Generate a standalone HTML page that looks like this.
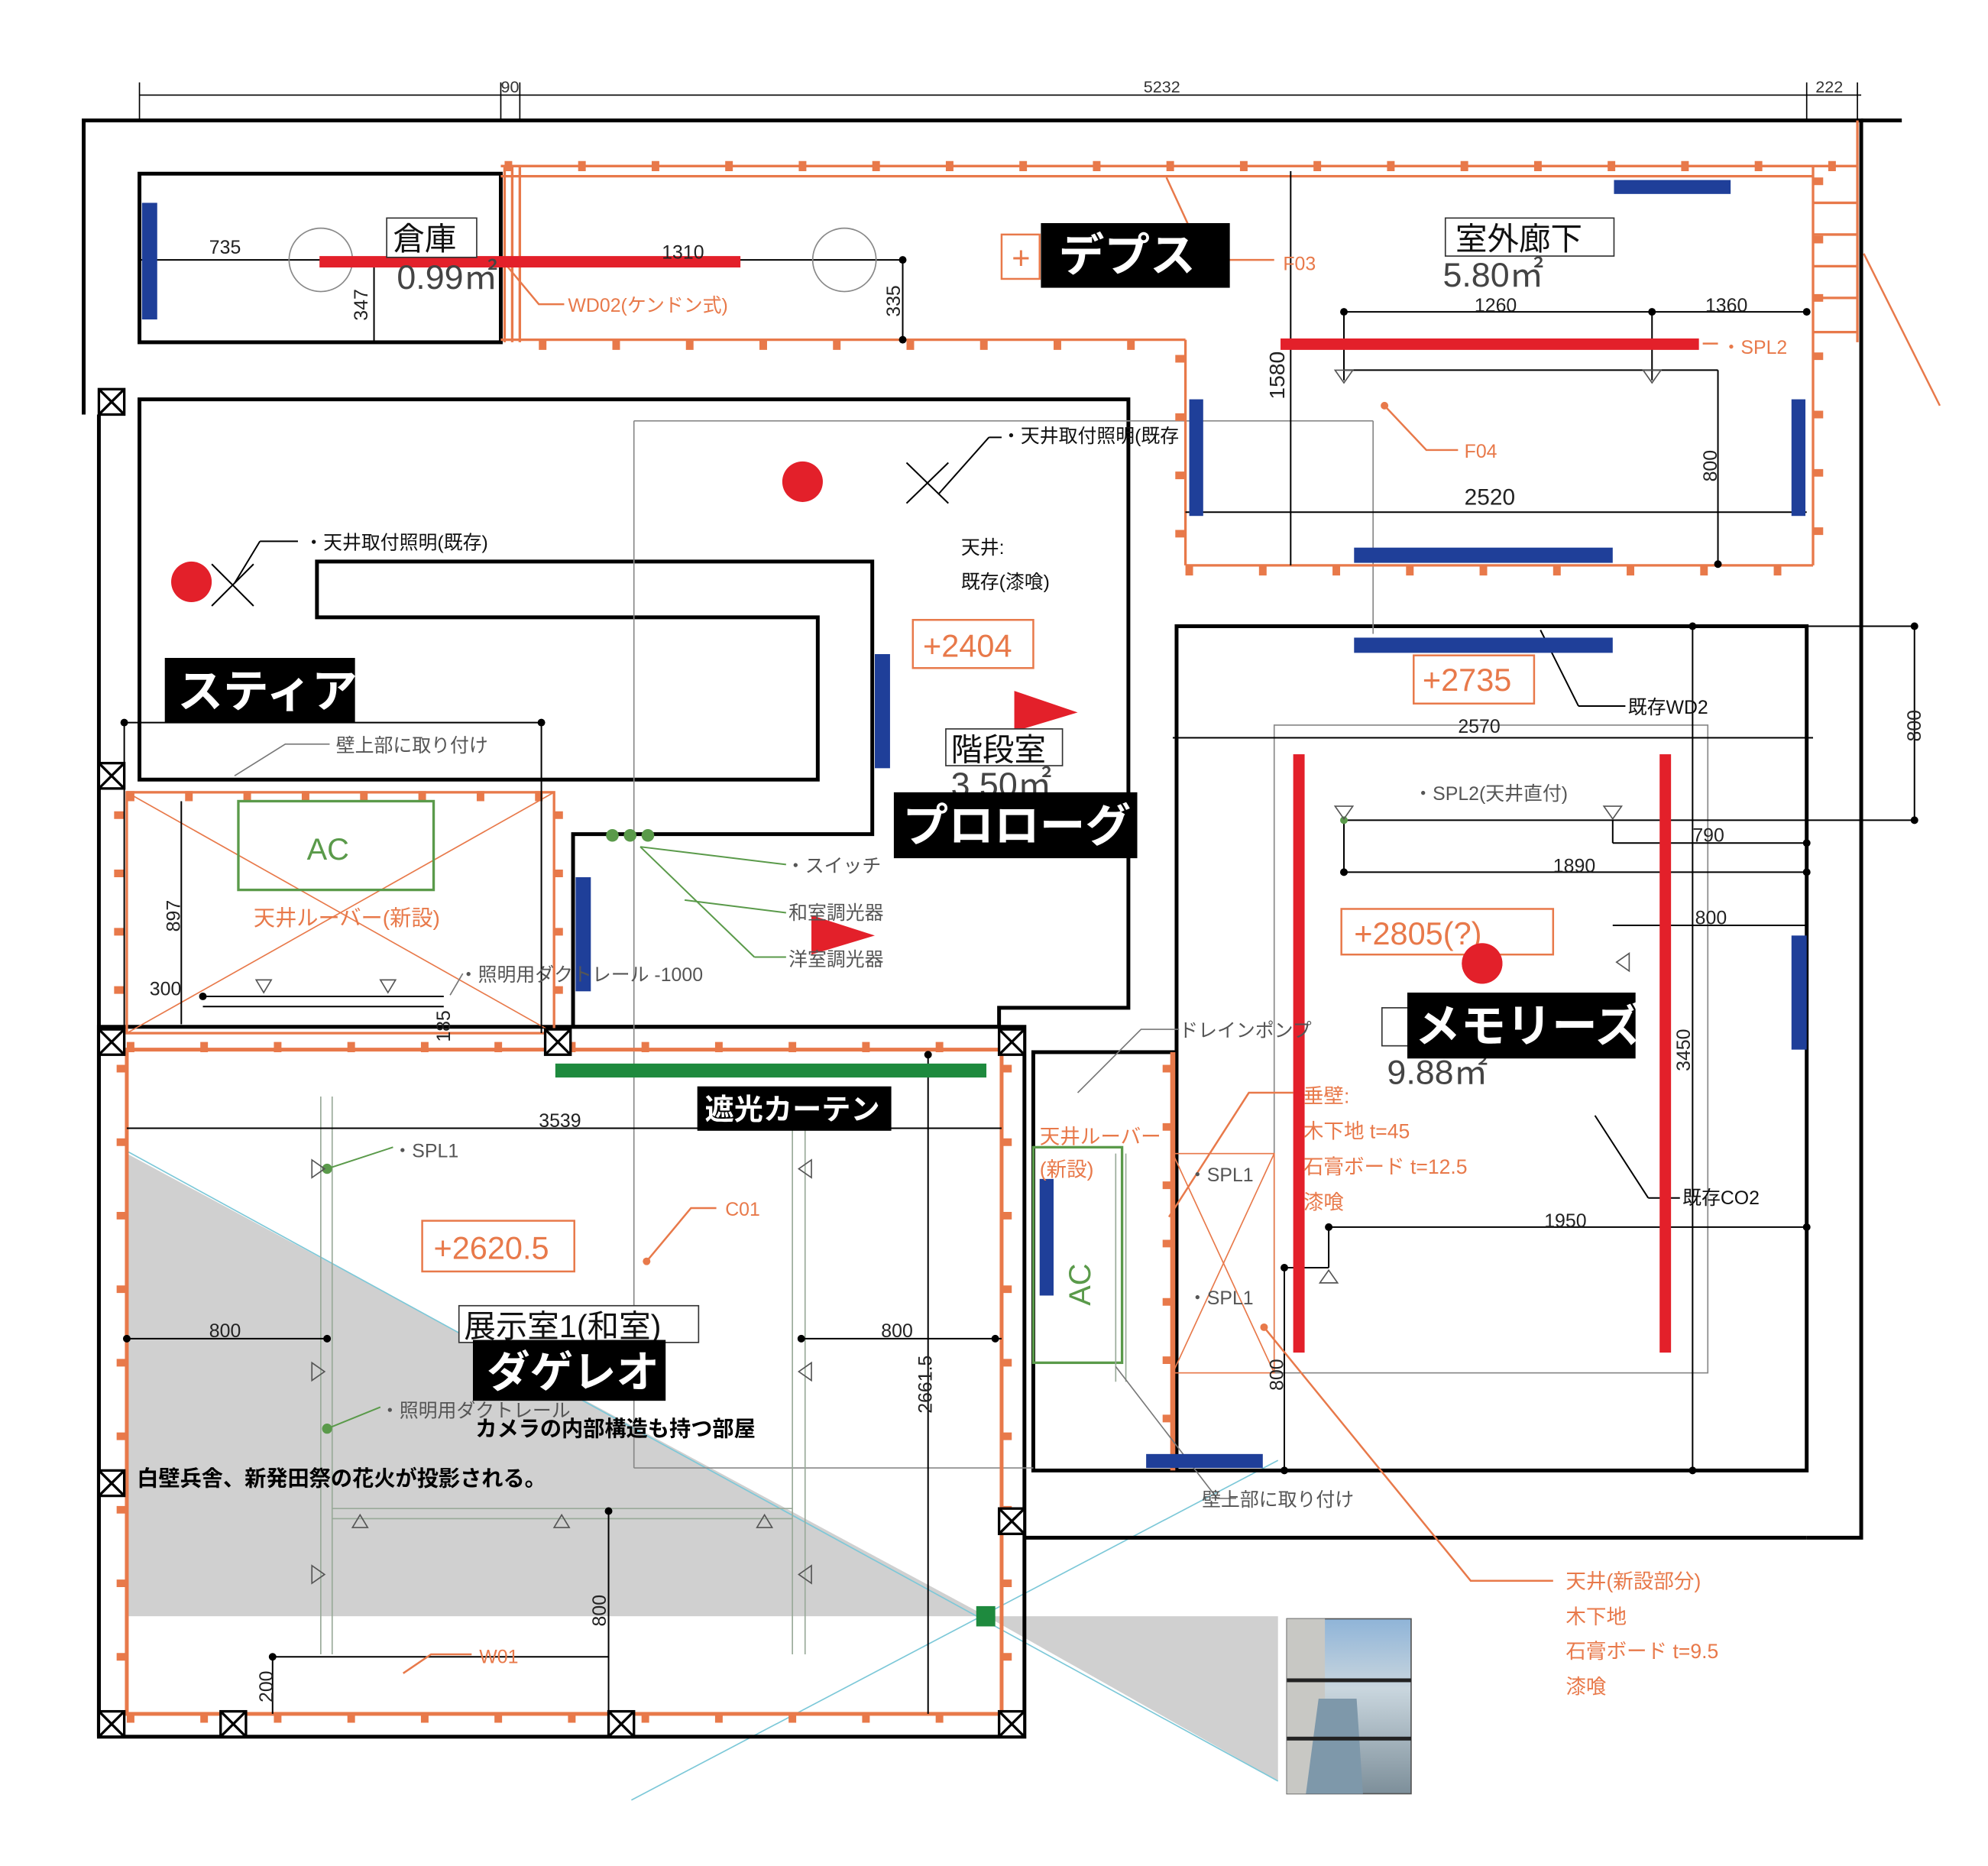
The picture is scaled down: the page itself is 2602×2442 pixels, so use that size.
<!DOCTYPE html>
<html><head><meta charset="utf-8"><style>
html,body{margin:0;padding:0;background:#fff}
svg{display:block}
text{font-family:"Liberation Sans","Noto Sans CJK JP",sans-serif}
</style></head><body>
<svg width="2602" height="2442" viewBox="0 0 1568 1472" preserveAspectRatio="none" xmlns="http://www.w3.org/2000/svg">
<defs>
<linearGradient id="sky" x1="0" y1="0" x2="0" y2="1"><stop offset="0" stop-color="#8fb4d8"/><stop offset="0.4" stop-color="#c9d6de"/><stop offset="1" stop-color="#7d8f9a"/></linearGradient>
<g id="xb"><rect x="-10" y="-10" width="20" height="20"/><line x1="-10" y1="-10" x2="10" y2="10"/><line x1="10" y1="-10" x2="-10" y2="10"/></g>
</defs>
<g stroke="#000" stroke-width="1" fill="none">
<line x1="110" y1="75" x2="1468" y2="75"/>
<line x1="110" y1="65" x2="110" y2="95"/><line x1="395" y1="65" x2="395" y2="95"/><line x1="410" y1="65" x2="410" y2="95"/><line x1="1425" y1="65" x2="1425" y2="95"/><line x1="1465" y1="65" x2="1465" y2="95"/>
</g>
<g font-size="13" fill="#333"><text x="395" y="73">90</text><text x="902" y="73">5232</text><text x="1432" y="73">222</text></g>
<polygon points="100,910 100,1275 778,1275" fill="#d0d0d0"/>
<polygon points="778,1275 1008,1275 1008,1405" fill="#d0d0d0"/>
<g stroke="#7cc8d8" stroke-width="1"><line x1="100" y1="908" x2="1008" y2="1405"/><line x1="498" y1="1420" x2="1008" y2="1152"/></g>
<g stroke="#000" stroke-width="3" fill="none">
<polyline points="66,327 66,95 1468,95 1468,1213 1425,1213"/>
<line x1="1468" y1="95" x2="1500" y2="95"/>
<rect x="110" y="137" width="285" height="133"/>
<polygon points="110,315 890,315 890,795 788,795 788,810 452,810 452,658 688,658 688,443 250,443 250,487 645,487 645,615 110,615"/>
<line x1="78" y1="327" x2="78" y2="1370"/>
<rect x="78" y="810" width="730" height="560"/>
<rect x="928" y="494" width="497" height="666"/>
<rect x="815" y="830" width="110" height="330"/>
<line x1="808" y1="1213" x2="1425" y2="1213"/>
</g>
<g stroke="#888" stroke-width="1" fill="none">
<line x1="500" y1="332" x2="500" y2="1158"/><line x1="500" y1="332" x2="1083" y2="332"/><line x1="1083" y1="332" x2="1083" y2="500"/>
<rect x="1005" y="572" width="342" height="511"/>
<line x1="500" y1="1158" x2="815" y2="1158"/>
</g>
<g stroke="#e8794a" fill="none">
<g stroke-width="2">
<line x1="395" y1="131" x2="1465" y2="131"/><line x1="395" y1="139" x2="1430" y2="139"/>
<line x1="395" y1="268" x2="935" y2="268"/><line x1="935" y1="268" x2="935" y2="446"/><line x1="935" y1="446" x2="1430" y2="446"/><line x1="1430" y1="131" x2="1430" y2="446"/>
<line x1="398" y1="131" x2="398" y2="270"/><line x1="404" y1="131" x2="404" y2="270"/><line x1="410" y1="131" x2="410" y2="270"/>
<line x1="1465" y1="95" x2="1465" y2="270"/><line x1="1430" y1="160" x2="1465" y2="160"/><line x1="1430" y1="185" x2="1465" y2="185"/><line x1="1430" y1="210" x2="1465" y2="210"/><line x1="1430" y1="235" x2="1465" y2="235"/><line x1="1430" y1="262" x2="1465" y2="262"/>
<rect x="100" y="625" width="337" height="190"/>
<line x1="100" y1="625" x2="437" y2="815" stroke-width="1"/><line x1="437" y1="625" x2="100" y2="815" stroke-width="1"/>
<rect x="100" y="828" width="690" height="524" stroke-width="3"/>
<line x1="925" y1="830" x2="925" y2="1160" stroke-width="4"/>
<rect x="925" y="910" width="80" height="173" stroke-width="1"/>
<line x1="925" y1="910" x2="1005" y2="1083" stroke-width="1"/><line x1="1005" y1="910" x2="925" y2="1083" stroke-width="1"/>
<line x1="1470" y1="200" x2="1530" y2="320" stroke-width="1.5"/>
</g>
<g stroke-width="8">
<line x1="395" y1="131" x2="1465" y2="131" stroke-dasharray="6 52" stroke-dashoffset="-3"/>
<line x1="395" y1="272" x2="935" y2="272" stroke-dasharray="6 52" stroke-dashoffset="-30"/>
<line x1="935" y1="450" x2="1430" y2="450" stroke-dasharray="6 52"/>
<line x1="931" y1="280" x2="931" y2="446" stroke-dasharray="6 40"/>
<line x1="1434" y1="140" x2="1434" y2="446" stroke-dasharray="6 40"/>
<line x1="100" y1="628" x2="437" y2="628" stroke-dasharray="6 40"/>
<line x1="94" y1="640" x2="94" y2="815" stroke-dasharray="6 40"/>
<line x1="440" y1="640" x2="440" y2="815" stroke-dasharray="6 40"/>
<line x1="100" y1="826" x2="790" y2="826" stroke-dasharray="6 52"/>
<line x1="100" y1="1355" x2="790" y2="1355" stroke-dasharray="6 52"/>
<line x1="96" y1="840" x2="96" y2="1352" stroke-dasharray="6 52"/>
<line x1="794" y1="840" x2="794" y2="1352" stroke-dasharray="6 52"/>
<line x1="921" y1="840" x2="921" y2="1160" stroke-dasharray="6 40"/>
</g>
</g>
<g stroke="#000" stroke-width="2" fill="#fff">
<use href="#xb" x="88" y="317"/><use href="#xb" x="88" y="612"/><use href="#xb" x="88" y="822"/><use href="#xb" x="440" y="822"/><use href="#xb" x="798" y="822"/><use href="#xb" x="88" y="1170"/><use href="#xb" x="798" y="1200"/><use href="#xb" x="88" y="1360"/><use href="#xb" x="184" y="1360"/><use href="#xb" x="490" y="1360"/><use href="#xb" x="798" y="1360"/>
</g>
<g stroke="#5a9a4a" stroke-width="2" fill="none"><rect x="188" y="632" width="154" height="70"/><rect x="815" y="905" width="70" height="170"/></g>
<text x="242" y="678" font-size="24" fill="#5a9a4a">AC</text>
<text x="860" y="1030" font-size="24" fill="#5a9a4a" transform="rotate(-90 860 1030)">AC</text>
<g stroke="#9a9" stroke-width="1" fill="none">
<line x1="253" y1="865" x2="253" y2="1305"/><line x1="262" y1="865" x2="262" y2="1305"/>
<line x1="625" y1="890" x2="625" y2="1305"/><line x1="635" y1="890" x2="635" y2="1305"/>
<line x1="262" y1="1190" x2="625" y2="1190"/><line x1="262" y1="1198" x2="625" y2="1198"/>
<line x1="880" y1="910" x2="880" y2="1090"/><line x1="888" y1="910" x2="888" y2="1090"/>
</g>
<g stroke="#000" stroke-width="1.2" fill="none">
<line x1="110" y1="205" x2="712" y2="205"/><line x1="712" y1="205" x2="712" y2="268"/><line x1="295" y1="205" x2="295" y2="270"/>
<line x1="1060" y1="246" x2="1425" y2="246"/><line x1="1060" y1="246" x2="1060" y2="300"/><line x1="1303" y1="246" x2="1303" y2="300"/>
<line x1="1060" y1="292" x2="1355" y2="292"/><line x1="1355" y1="292" x2="1355" y2="445"/>
<line x1="1018" y1="135" x2="1018" y2="446"/><line x1="935" y1="404" x2="1425" y2="404"/>
<line x1="98" y1="570" x2="427" y2="570"/><line x1="427" y1="570" x2="427" y2="815"/><line x1="98" y1="570" x2="98" y2="815"/>
<line x1="143" y1="632" x2="143" y2="808"/>
<line x1="160" y1="786" x2="350" y2="786"/><line x1="160" y1="794" x2="350" y2="794"/>
<line x1="925" y1="582" x2="1430" y2="582"/>
<line x1="1060" y1="647" x2="1510" y2="647"/><line x1="1272" y1="647" x2="1272" y2="665"/>
<line x1="1272" y1="665" x2="1425" y2="665"/><line x1="1060" y1="688" x2="1425" y2="688"/><line x1="1060" y1="647" x2="1060" y2="688"/>
<line x1="1272" y1="730" x2="1425" y2="730"/>
<line x1="1335" y1="494" x2="1510" y2="494"/><line x1="1510" y1="494" x2="1510" y2="647"/>
<line x1="1048" y1="968" x2="1425" y2="968"/><line x1="1048" y1="968" x2="1048" y2="1000"/><line x1="1013" y1="1000" x2="1048" y2="1000"/>
<line x1="1013" y1="1000" x2="1013" y2="1160"/><line x1="1335" y1="494" x2="1335" y2="1160"/>
<line x1="100" y1="890" x2="790" y2="890"/>
<line x1="100" y1="1056" x2="258" y2="1056"/><line x1="632" y1="1056" x2="790" y2="1056"/>
<line x1="732" y1="832" x2="732" y2="1352"/>
<line x1="215" y1="1307" x2="480" y2="1307"/><line x1="215" y1="1307" x2="215" y2="1352"/><line x1="480" y1="1192" x2="480" y2="1352"/>
<line x1="1258" y1="880" x2="1300" y2="945"/><line x1="1300" y1="945" x2="1325" y2="945"/>
<line x1="1215" y1="497" x2="1245" y2="557"/><line x1="1245" y1="557" x2="1282" y2="557"/>
<line x1="740" y1="390" x2="780" y2="345"/><line x1="780" y1="345" x2="790" y2="345"/>
<line x1="715" y1="365" x2="748" y2="397"/><line x1="748" y1="365" x2="715" y2="397"/>
<line x1="167" y1="445" x2="200" y2="478"/><line x1="200" y1="445" x2="167" y2="478"/>
<line x1="185" y1="460" x2="205" y2="427"/><line x1="205" y1="427" x2="235" y2="427"/>
</g>
<g fill="#000"><circle cx="712" cy="205" r="3"/><circle cx="712" cy="268" r="3"/><circle cx="1060" cy="246" r="3"/><circle cx="1303" cy="246" r="3"/><circle cx="1425" cy="246" r="3"/><circle cx="1355" cy="445" r="3"/><circle cx="1335" cy="494" r="3"/><circle cx="1510" cy="494" r="3"/><circle cx="1510" cy="647" r="3"/><circle cx="1425" cy="665" r="3"/><circle cx="1425" cy="688" r="3"/><circle cx="1060" cy="688" r="3"/><circle cx="1048" cy="968" r="3"/><circle cx="1425" cy="968" r="3"/><circle cx="1013" cy="1000" r="3"/><circle cx="1013" cy="1160" r="3"/><circle cx="1335" cy="1160" r="3"/><circle cx="100" cy="1056" r="3"/><circle cx="258" cy="1056" r="3"/><circle cx="632" cy="1056" r="3"/><circle cx="785" cy="1056" r="3"/><circle cx="732" cy="832" r="3"/><circle cx="480" cy="1192" r="3"/><circle cx="215" cy="1307" r="3"/><circle cx="160" cy="786" r="3"/><circle cx="98" cy="570" r="3"/><circle cx="427" cy="570" r="3"/></g>
<g fill="#5a9a4a"><circle cx="483" cy="659" r="5"/><circle cx="497" cy="659" r="5"/><circle cx="511" cy="659" r="5"/><circle cx="258" cy="922" r="4"/><circle cx="258" cy="1127" r="4"/><circle cx="1060" cy="647" r="3"/></g>
<g stroke="#5a9a4a" stroke-width="1.2" fill="none"><line x1="505" y1="668" x2="595" y2="755"/><line x1="505" y1="668" x2="620" y2="682"/><line x1="540" y1="710" x2="620" y2="720"/><line x1="595" y1="755" x2="620" y2="755"/>
<line x1="258" y1="922" x2="310" y2="905"/><line x1="258" y1="1127" x2="300" y2="1110"/></g>
<g stroke="#555" stroke-width="1" fill="none">
<polygon points="1053,292 1067,292 1060,302"/><polygon points="1296,292 1310,292 1303,302"/>
<polygon points="1053,636 1067,636 1060,646"/><polygon points="1265,636 1279,636 1272,646"/>
<polygon points="202,773 214,773 208,783"/><polygon points="300,773 312,773 306,783"/>
<polygon points="1041,1012 1055,1012 1048,1002"/>
<polygon points="278,1205 290,1205 284,1195"/><polygon points="437,1205 449,1205 443,1195"/><polygon points="597,1205 609,1205 603,1195"/>
<polygon points="246,915 246,929 256,922"/><polygon points="246,1075 246,1089 256,1082"/><polygon points="246,1235 246,1249 256,1242"/>
<polygon points="640,915 640,929 630,922"/><polygon points="640,1075 640,1089 630,1082"/><polygon points="640,1235 640,1249 630,1242"/>
<polygon points="1285,752 1285,766 1275,759"/>
</g>
<g stroke="#e8794a" stroke-width="1.5" fill="none">
<polyline points="920,140 950,205 1005,205"/><polyline points="1092,320 1125,355 1150,355"/>
<polyline points="1343,271 1355,271"/>
<polyline points="400,210 425,240 445,240"/>
<polyline points="510,995 545,953 565,953"/>
<polyline points="922,960 985,862 1020,862"/>
<polyline points="997,1047 1160,1247 1225,1247"/>
<polyline points="318,1320 340,1305 372,1305"/>
</g>
<g fill="#e8794a"><circle cx="510" cy="995" r="3"/><circle cx="997" cy="1047" r="3"/><circle cx="1092" cy="320" r="3"/></g>
<g stroke="#777" stroke-width="1" fill="none"><polyline points="880,1078 960,1182 975,1182"/><polyline points="850,862 900,812 930,812"/><polyline points="185,612 225,587 260,587"/><polyline points="355,785 365,768"/></g>
<g stroke="#888" stroke-width="1" fill="none"><circle cx="253" cy="205" r="25"/><circle cx="666" cy="205" r="25"/></g>
<g fill="#e3202a">
<rect x="252" y="202" width="332" height="9"/><rect x="1010" y="267" width="330" height="9"/>
<rect x="1020" y="595" width="9" height="472"/><rect x="1309" y="595" width="9" height="472"/>
<circle cx="633" cy="380" r="16"/><circle cx="151" cy="459" r="16"/><circle cx="1169" cy="760" r="16"/>
<polygon points="800,545 850,562 800,577"/><polygon points="640,722 690,738 640,753"/>
</g>
<g fill="#1f3f99">
<rect x="112" y="160" width="12" height="92"/><rect x="1273" y="142" width="92" height="11"/>
<rect x="938" y="315" width="11" height="92"/><rect x="1413" y="315" width="11" height="92"/>
<rect x="1068" y="432" width="204" height="12"/><rect x="1068" y="503" width="204" height="12"/>
<rect x="690" y="516" width="12" height="90"/><rect x="454" y="692" width="12" height="90"/>
<rect x="1413" y="738" width="12" height="90"/><rect x="820" y="930" width="11" height="92"/>
<rect x="904" y="1147" width="92" height="11"/>
</g>
<rect x="438" y="839" width="340" height="11" fill="#1e8a3e"/>
<rect x="770" y="1267" width="15" height="16" fill="#1e8a3e"/>
<rect x="1015" y="1277" width="98" height="138" fill="url(#sky)" stroke="#555"/>
<polygon points="1015,1277 1045,1277 1045,1415 1015,1415" fill="#c8c8c4"/>
<polygon points="1040,1340 1070,1340 1075,1415 1030,1415" fill="#7e98aa"/>
<rect x="1015" y="1324" width="98" height="3" fill="#222"/><rect x="1015" y="1370" width="98" height="3" fill="#222"/>
<g font-size="15" fill="#222">
<text x="165" y="200">735</text><text x="522" y="204">1310</text>
<text x="1163" y="246">1260</text><text x="1345" y="246">1360</text>
<text x="1155" y="398" font-size="18">2520</text><text x="1150" y="578">2570</text>
<text x="1335" y="664">790</text><text x="1225" y="688">1890</text><text x="1337" y="729">800</text>
<text x="1218" y="968">1950</text><text x="425" y="889">3539</text>
<text x="165" y="1055">800</text><text x="695" y="1055">800</text><text x="118" y="785">300</text>
<text transform="translate(290,253) rotate(-90)">347</text><text transform="translate(710,250) rotate(-90)">335</text>
<text transform="translate(1013,315) rotate(-90)" font-size="17">1580</text><text transform="translate(1354,380) rotate(-90)">800</text>
<text transform="translate(1515,585) rotate(-90)">800</text><text transform="translate(142,735) rotate(-90)">897</text>
<text transform="translate(355,822) rotate(-90)">185</text><text transform="translate(1333,845) rotate(-90)">3450</text>
<text transform="translate(735,1115) rotate(-90)">2661.5</text><text transform="translate(478,1283) rotate(-90)">800</text>
<text transform="translate(215,1343) rotate(-90)">200</text><text transform="translate(1012,1097) rotate(-90)">800</text>
</g>
<g font-size="15" fill="#e8794a">
<text x="448" y="246">WD02(ケンドン式)</text><text x="1012" y="213">F03</text><text x="1155" y="361">F04</text><text x="1358" y="279">・SPL2</text>
<text x="200" y="730" font-size="17">天井ルーバー(新設)</text><text x="572" y="959">C01</text><text x="378" y="1312">W01</text>
<text x="820" y="902" font-size="16">天井ルーバー</text><text x="820" y="928" font-size="16">(新設)</text>
<text x="1028" y="870" font-size="16">垂壁:</text><text x="1028" y="898" font-size="16">木下地 t=45</text><text x="1028" y="926" font-size="16">石膏ボード t=12.5</text><text x="1028" y="954" font-size="16">漆喰</text>
<text x="1235" y="1253" font-size="16">天井(新設部分)</text><text x="1235" y="1281" font-size="16">木下地</text><text x="1235" y="1308" font-size="16">石膏ボード t=9.5</text><text x="1235" y="1336" font-size="16">漆喰</text>
</g>
<g font-size="15" fill="#555">
<text x="265" y="593">壁上部に取り付け</text><text x="620" y="688">・スイッチ</text><text x="622" y="725">和室調光器</text><text x="622" y="762">洋室調光器</text>
<text x="362" y="774">・照明用ダクトレール -1000</text><text x="310" y="913">・SPL1</text><text x="300" y="1118">・照明用ダクトレール</text>
<text x="930" y="818">ドレインポンプ</text><text x="937" y="932">・SPL1</text><text x="937" y="1029">・SPL1</text>
<text x="948" y="1188">壁上部に取り付け</text><text x="1115" y="631">・SPL2(天井直付)</text>
</g>
<g font-size="15" fill="#111">
<text x="240" y="433">・天井取付照明(既存)</text><text x="790" y="349">・天井取付照明(既存</text>
<text x="758" y="437">天井:</text><text x="758" y="464">既存(漆喰)</text>
<text x="1284" y="563">既存WD2</text><text x="1327" y="950">既存CO2</text>
</g>
<g fill="#fff" stroke="#333" stroke-width="1"><rect x="305" y="172" width="71" height="31"/><rect x="1140" y="172" width="133" height="30"/><rect x="746" y="575" width="92" height="29"/><rect x="362" y="1030" width="189" height="29"/><rect x="1090" y="795" width="25" height="30"/></g>
<g font-size="25" fill="#111"><text x="310" y="197">倉庫</text><text x="1148" y="197">室外廊下</text><text x="750" y="600">階段室</text><text x="366" y="1055">展示室1(和室)</text></g>
<g font-size="27" fill="#444"><text x="313" y="228">0.99㎡</text><text x="1138" y="226">5.80㎡</text><text x="750" y="628">3.50㎡</text><text x="1094" y="855">9.88㎡</text></g>
<g fill="#fff" stroke="#e8794a" stroke-width="1.5"><rect x="720" y="489" width="95" height="38"/><rect x="1115" y="517" width="95" height="38"/><rect x="1058" y="717" width="167" height="36"/><rect x="333" y="963" width="120" height="40"/><rect x="790" y="185" width="30" height="35"/></g>
<g font-size="25" fill="#e8794a"><text x="728" y="518">+2404</text><text x="1122" y="545">+2735</text><text x="1068" y="745">+2805(?)</text><text x="342" y="993">+2620.5</text><text x="798" y="212">+</text></g>
<circle cx="1169" cy="760" r="16" fill="#e3202a"/>
<g fill="#000"><rect x="821" y="176" width="149" height="51"/><rect x="130" y="519" width="150" height="51"/><rect x="705" y="625" width="192" height="52"/><rect x="1110" y="783" width="180" height="52"/><rect x="550" y="857" width="153" height="35"/><rect x="373" y="1057" width="152" height="48"/></g>
<g fill="#fff" font-weight="bold">
<text x="835" y="214" font-size="36">デプス</text><text x="140" y="558" font-size="36">スティア</text><text x="712" y="664" font-size="36">プロローグ</text><text x="1116" y="822" font-size="36">メモリーズ</text><text x="556" y="883" font-size="23">遮光カーテン</text><text x="384" y="1094" font-size="34">ダゲレオ</text>
</g>
<g fill="#000" font-weight="bold" font-size="17"><text x="375" y="1133">カメラの内部構造も持つ部屋</text><text x="108" y="1172">白壁兵舎、新発田祭の花火が投影される。</text></g>
</svg>
</body></html>
